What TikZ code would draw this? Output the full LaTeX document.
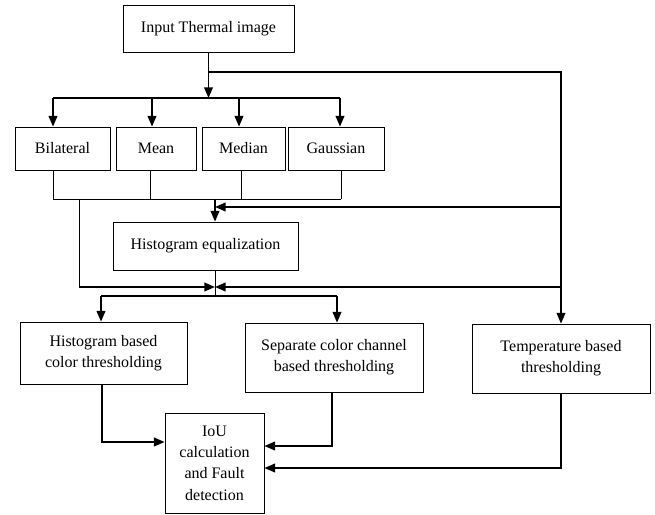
\documentclass[tikz,border=0pt]{standalone}
\usepackage{fontspec}
\setmainfont{Liberation Serif}
\usetikzlibrary{arrows.meta}

\begin{document}
\begin{tikzpicture}[x=0.75pt, y=-0.75pt,
    block/.style={draw, line width=0.6pt, align=center, inner sep=2pt, font=\fontsize{12}{16}\selectfont},
    arr/.style={line width=1.3pt, -{Triangle[length=8pt,width=6.5pt]}},
    wire/.style={line width=1.3pt},
    thinwire/.style={line width=0.6pt}]
    \useasboundingbox (0,0) rectangle (655,514);
    % boxes
    \node [block, minimum width=128.25pt, minimum height=35.25pt] (input) at (208.5, 28.5) {Input Thermal image};
    \node [block, minimum width=71.25pt, minimum height=32.25pt] (bil) at (62.5, 148.5) {Bilateral};
    \node [block, minimum width=60pt, minimum height=32.25pt] (mean) at (156, 148.5) {Mean};
    \node [block, minimum width=62.25pt, minimum height=32.25pt] (median) at (243.5, 148.5) {Median};
    \node [block, minimum width=72pt, minimum height=32.25pt] (gauss) at (336, 148.5) {Gaussian};
    \node [block, minimum width=138.75pt, minimum height=36pt] (histeq) at (205.5, 246) {Histogram equalization};
    \node [block, minimum width=125.25pt, minimum height=46.5pt] (histcol) at (103.5, 353) {Histogram based\\color thresholding};
    \node [block, minimum width=133.5pt, minimum height=51.75pt] (sep) at (334, 357.5) {Separate color channel\\based thresholding};
    \node [block, minimum width=133.5pt, minimum height=51.75pt] (temp) at (561, 358.5) {Temperature based\\thresholding};
    \node [block, minimum width=74.25pt, minimum height=75pt] (iou) at (214.5, 463) {IoU\\calculation\\and Fault\\detection};
    % junctions
    \coordinate (split) at (209, 72);
    \coordinate (tl) at (53, 98);
    \coordinate (tr) at (340, 98);
    \coordinate (mid) at (215, 199);
    \coordinate (lft) at (79, 199);
    \coordinate (join) at (215, 287);
    \coordinate (rmid1) at (561, 207);
    \coordinate (rmid2) at (561, 287);
    \coordinate (split2) at (215, 296);
    \coordinate (sl) at (101, 296);
    \coordinate (sr) at (337, 296);
    \coordinate (h1) at (102, 442);
    \coordinate (s1) at (332, 446);
    \coordinate (t1) at (561, 468);
    % connectors
    \draw [arr] (input.south) -- (input.south |- tl);
    \draw [wire] (tl) -- (tr);
    \draw [arr] (split) -| (temp.north);
    \foreach \n/\x in {bil/53, mean/152, median/239, gauss/340} {
      \path (\x, 98) coordinate (t\n);
      \draw [arr] (t\n) -- (t\n |- \n.north);
    }
    \foreach \n/\x in {bil/53, mean/150, median/241, gauss/341} {
      \path (\x, 199) coordinate (b\n);
      \draw [thinwire] (b\n |- \n.south) -- (b\n);
    }
    \draw [thinwire] (bbil) -- (bgauss);
    \draw [arr] (mid) -- (mid |- histeq.north);
    \draw [arr] (rmid1) -- (rmid1 -| mid);
    \draw [thinwire] (lft) -- (lft |- join);
    \draw [arr] (lft |- join) -- (join);
    \draw [arr] (rmid2) -- (join);
    \draw [thinwire] (histeq.south -| join) -- (split2);
    \draw [wire] (sl) -- (sr);
    \draw [arr] (sl) -- (sl |- histcol.north);
    \draw [arr] (sr) -- (sr |- sep.north);
    \draw [arr] (histcol.south -| h1) |- (h1 -| iou.west);
    \draw [arr] (sep.south -| s1) |- (s1 -| iou.east);
    \draw [arr] (temp.south) |- (t1 -| iou.east);
\end{tikzpicture}
\end{document}
